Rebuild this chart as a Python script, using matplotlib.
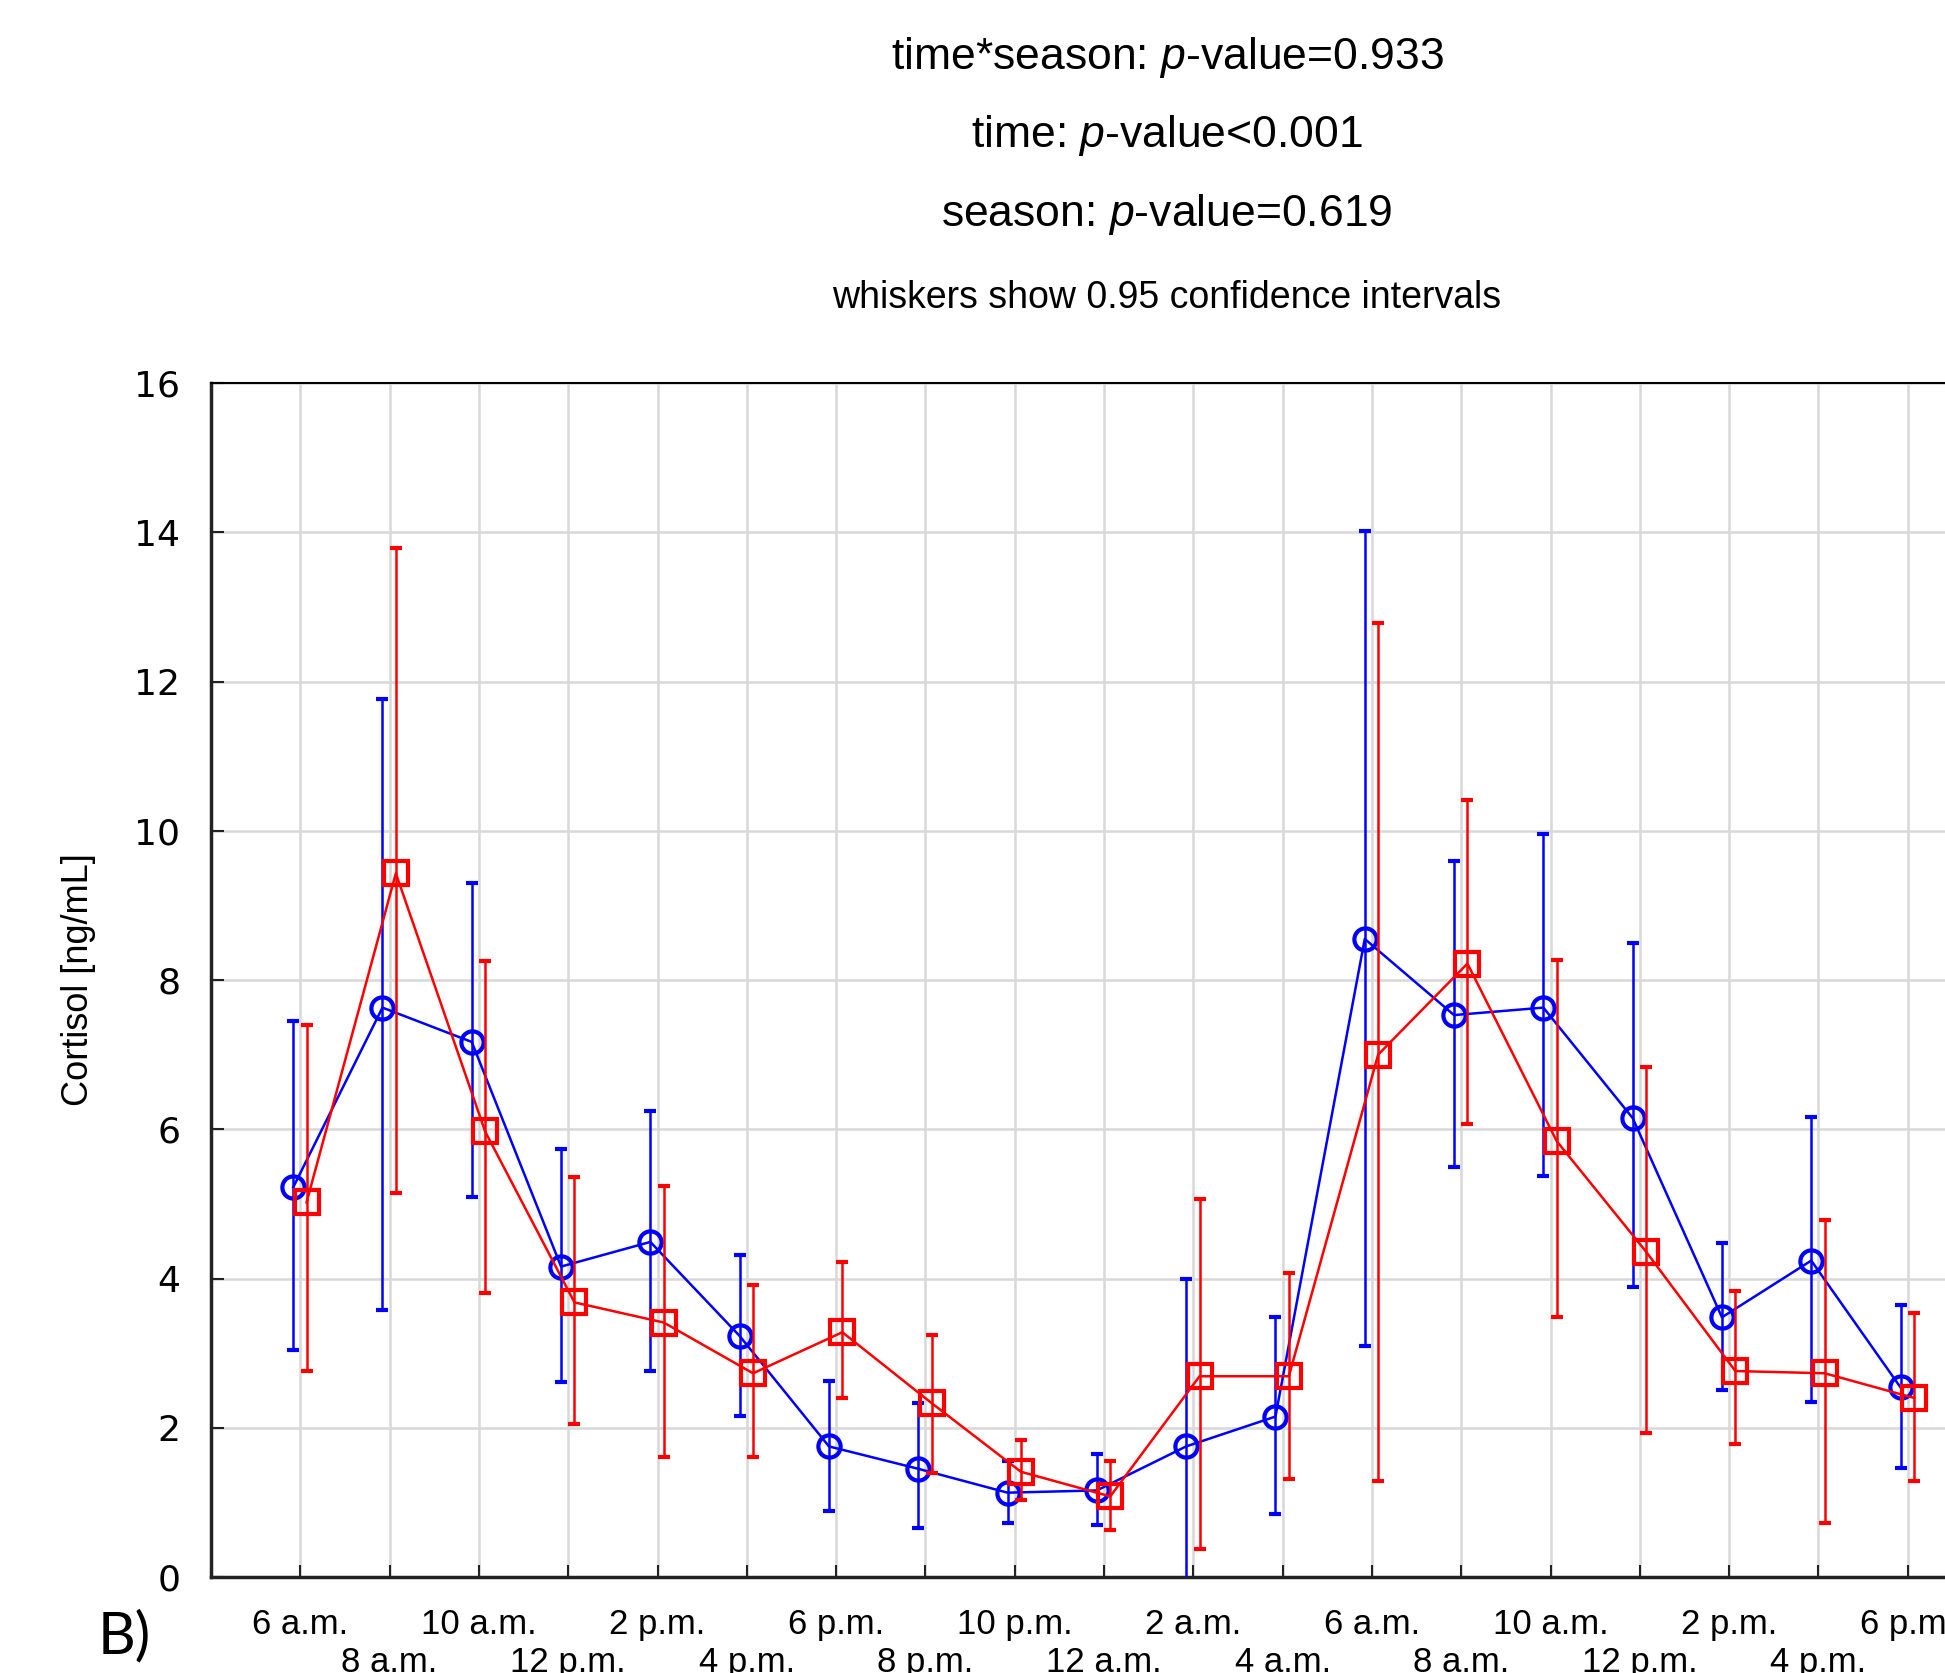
import numpy as np
import matplotlib
matplotlib.use("Agg")
import matplotlib.pyplot as plt

# ---------------------------------------------------------------
# data (cortisol, two seasons)
# ---------------------------------------------------------------
time_labels = ["6 a.m.", "8 a.m.", "10 a.m.", "12 p.m.", "2 p.m.", "4 p.m.",
               "6 p.m.", "8 p.m.", "10 p.m.", "12 a.m.", "2 a.m.", "4 a.m.",
               "6 a.m.", "8 a.m.", "10 a.m.", "12 p.m.", "2 p.m.", "4 p.m.",
               "6 p.m."]

blue_mean = [5.22, 7.63, 7.17, 4.16, 4.49, 3.23, 1.75, 1.45, 1.13, 1.16,
             1.75, 2.15, 8.55, 7.53, 7.63, 6.15, 3.48, 4.24, 2.54]
blue_upper = [7.45, 11.76, 9.30, 5.74, 6.24, 4.32, 2.63, 2.33, 1.55, 1.65,
              3.99, 3.48, 14.02, 9.60, 9.96, 8.50, 4.47, 6.17, 3.64]
blue_lower = [3.04, 3.58, 5.09, 2.61, 2.76, 2.16, 0.88, 0.65, 0.73, 0.70,
              -0.10, 0.85, 3.09, 5.49, 5.37, 3.88, 2.51, 2.35, 1.46]

red_mean = [5.02, 9.43, 5.97, 3.68, 3.41, 2.73, 3.28, 2.33, 1.41, 1.08,
            2.69, 2.69, 7.00, 8.22, 5.84, 4.36, 2.76, 2.73, 2.40]
red_upper = [7.40, 13.79, 8.25, 5.36, 5.24, 3.91, 4.22, 3.24, 1.83, 1.55,
             5.06, 4.07, 12.79, 10.41, 8.27, 6.84, 3.83, 4.79, 3.54]
red_lower = [2.76, 5.14, 3.81, 2.05, 1.61, 1.61, 2.40, 1.40, 1.03, 0.63,
             0.37, 1.31, 1.28, 6.07, 3.49, 1.93, 1.78, 0.72, 1.28]

y_ticks = [0, 2, 4, 6, 8, 10, 12, 14, 16]

plt.rcParams['font.family'] = ['Liberation Sans', 'DejaVu Sans']
plt.rcParams['mathtext.fontset'] = 'custom'
plt.rcParams['mathtext.rm'] = 'Liberation Sans'
plt.rcParams['mathtext.it'] = 'Liberation Sans:italic'

fig = plt.figure(figsize=(19.45, 16.73), dpi=100)
# axes runs past the right edge of the figure, as in the cropped original
ax = fig.add_axes([211 / 1945, 96 / 1673, 1786 / 1945, 1194 / 1673])

x = np.arange(len(time_labels))
bm = np.array(blue_mean)
rm = np.array(red_mean)
blue_err = [bm - np.array(blue_lower), np.array(blue_upper) - bm]
red_err = [rm - np.array(red_lower), np.array(red_upper) - rm]

ax.errorbar(x - 0.08, bm, yerr=blue_err, color='#0000ff', lw=1.8,
            elinewidth=1.8, capsize=4, capthick=1.8,
            marker='o', ms=16, mfc='none', mec='#0000ff', mew=3, zorder=3)
ax.errorbar(x + 0.07, rm, yerr=red_err, color='#ff0000', lw=1.8,
            elinewidth=1.8, capsize=4, capthick=1.8,
            marker='s', ms=17, mfc='none', mec='#ff0000', mew=3, zorder=4)

ax.set_xlim(-1, 19)
ax.set_ylim(0, 16)
ax.set_yticks(y_ticks)
ax.set_yticklabels([str(v) for v in y_ticks], family='DejaVu Sans', fontsize=26)

# two staggered rows of time labels: even ones on major ticks, odd ones on minor
ax.set_xticks(x[::2])
ax.set_xticklabels(time_labels[::2], fontsize=25)
ax.set_xticks(x[1::2], minor=True)
ax.set_xticklabels(time_labels[1::2], minor=True, fontsize=25)
ax.tick_params(axis='both', which='both', direction='in', length=9, width=1.5, color='#222222')
ax.tick_params(axis='y', pad=22)
ax.tick_params(axis='x', which='major', pad=22)
ax.tick_params(axis='x', which='minor', pad=50)

ax.grid(True, which='both', axis='x', color='#d8d8d8', lw=1.8)
ax.grid(True, which='major', axis='y', color='#d8d8d8', lw=1.8)
ax.set_axisbelow(True)
for side in ['left', 'bottom']:
    ax.spines[side].set_linewidth(2.5)
    ax.spines[side].set_color('#222222')
ax.spines['top'].set_linewidth(1.5)
ax.spines['right'].set_visible(False)

ax.set_ylabel("Cortisol [ng/mL]", fontsize=26, labelpad=28)

# header text
fig.text(0.600, 1 - 58 / 1673, "time*season: $\\it{p}$-value=0.933", ha='center', va='center', fontsize=32)
fig.text(0.600, 1 - 136 / 1673, "time: $\\it{p}$-value<0.001", ha='center', va='center', fontsize=32)
fig.text(0.600, 1 - 215 / 1673, "season: $\\it{p}$-value=0.619", ha='center', va='center', fontsize=32)
fig.text(0.600, 1 - 298 / 1673, "whiskers show 0.95 confidence intervals", ha='center', va='center', fontsize=27)

fig.text(124 / 1945, 1 - 1637 / 1673, "B)", ha='center', va='center', fontsize=42, family='Lato')

plt.savefig("out.png", dpi=100)
